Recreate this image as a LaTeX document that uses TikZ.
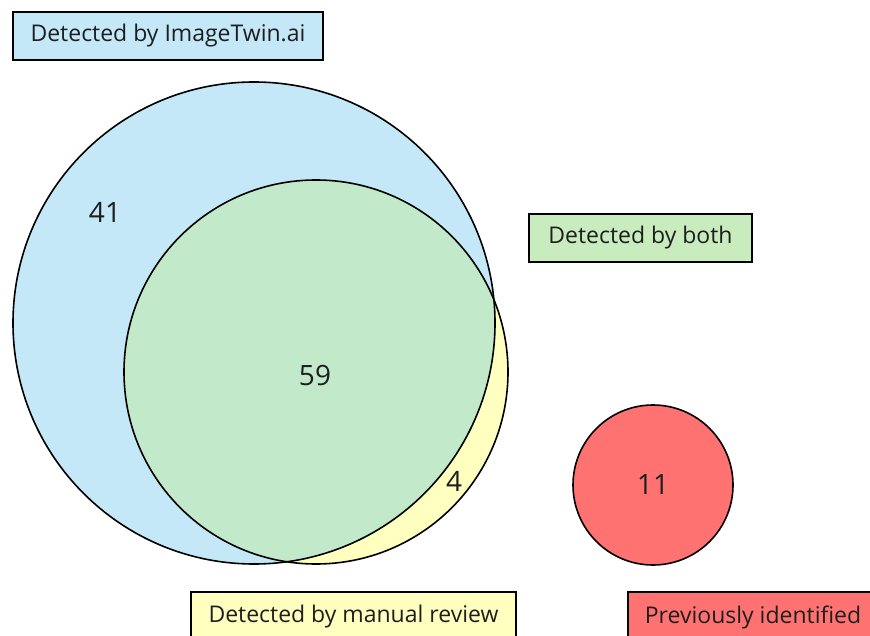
\documentclass[tikz,border=0pt]{standalone}
\usepackage{fontspec}
\setmainfont{Open Sans}
\definecolor{cblue}{RGB}{196,232,247}
\definecolor{cgreen}{RGB}{194,234,202}
\definecolor{cyellow}{RGB}{255,255,192}
\definecolor{cred}{RGB}{255,114,114}
\definecolor{lgreen}{RGB}{200,236,190}
\definecolor{txt}{RGB}{30,30,30}
\tikzset{
  lbl/.style={draw=black, line width=2pt, inner sep=0pt, font=\fontsize{23}{27}\selectfont, text=txt},
  setc/.style={draw=black, line width=1.6pt},
  num/.style={font=\fontsize{28}{32}\selectfont, text=txt}
}
\begin{document}
\begin{tikzpicture}[x=1pt,y=-1pt]
\useasboundingbox (0,0) rectangle (870,636);
\clip (0,0) rectangle (870,636);
% circles
\coordinate (cb) at (254,323);
\coordinate (cy) at (316,372);
\fill[cblue] (cb) circle (241);
\fill[cyellow] (cy) circle (192);
\begin{scope}
  \clip (cb) circle (241);
  \fill[cgreen] (cy) circle (192);
\end{scope}
\draw[setc] (cb) circle (241);
\draw[setc] (cy) circle (192);
\node[circle, setc, fill=cred, minimum size=160pt, inner sep=0pt] (red) at (653,485) {};
% numbers
\node[num] (n41) at (105,212) {41};
\node[num] (n59) at (315,375) {59};
\node[num] (n4) at (454,481) {4};
\node[num] (n11) at (red.center) {11};
% labels
\node[lbl, fill=cblue, minimum width=310pt, minimum height=48pt] (lb) at (168,36) {Detected by ImageTwin.ai};
\node[lbl, fill=lgreen, minimum width=223pt, minimum height=48pt] (lg) at (640.5,238) {Detected by both};
\node[lbl, fill=cyellow, minimum width=325pt, minimum height=50pt] (ly) at (353.5,617) {Detected by manual review};
\node[lbl, fill=cred, minimum width=250pt, minimum height=50pt] (lr) at (753,617) {Previously identified};
\end{tikzpicture}
\end{document}
